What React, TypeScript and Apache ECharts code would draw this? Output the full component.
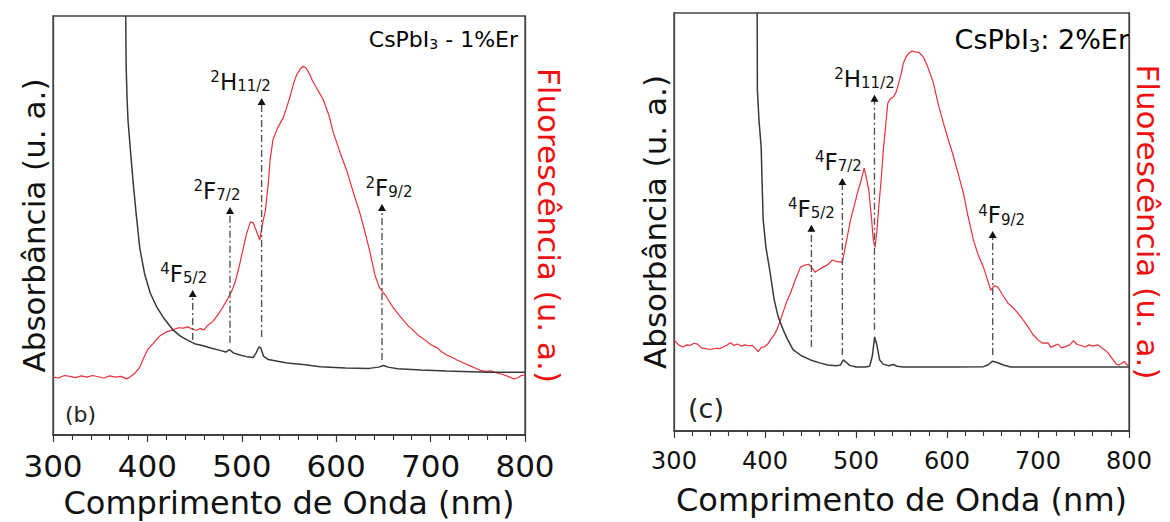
import React, { useEffect, useRef } from "react";
import * as echarts from "echarts";

const FONT = "'DejaVu Sans', Verdana, sans-serif";

// ---------- Panel (b): CsPbI3 - 1%Er ----------
const absNmB = [377, 377.5, 378.5, 379.5, 382, 385, 388, 392, 397, 403, 410, 417, 427, 435, 442, 450, 459, 468, 477, 483, 487, 491, 498, 505, 512, 515, 518, 520, 523, 528, 538, 548, 565, 583, 610, 635, 645, 650, 655, 665, 690, 717, 760, 800];
const absB = [100, 88, 80, 75, 68, 60, 53, 44.5, 38.5, 33.9, 30.5, 28, 25.1, 23.6, 22.7, 21.8, 21.3, 20.7, 20.2, 19.8, 20.4, 19.6, 19.1, 18.7, 18.5, 19.5, 21.0, 20.8, 18.8, 18.0, 17.6, 17.2, 16.8, 16.3, 16.0, 15.9, 16.2, 16.6, 16.2, 15.8, 15.5, 15.3, 15.0, 15.0];

const flNmB = [300, 306, 312, 318, 324, 330, 336, 342, 348, 354, 360, 366, 372, 378, 382, 387, 392, 396, 400, 406, 413, 420, 427, 433, 438, 443, 448, 452, 456, 460, 464, 469, 474, 479, 485, 489, 493, 497, 501, 505, 509, 512, 515, 519, 522, 525, 528, 530, 533, 538, 544, 548, 551, 555, 558, 562, 565, 568, 571, 575, 580, 586, 592, 597, 604, 611, 618, 625, 631, 636, 641, 646, 652, 660, 666, 671, 676, 681, 688, 694, 700, 707, 712, 717, 722, 728, 735, 742, 747, 752, 758, 764, 770, 776, 784, 788, 792, 796, 800];
const flB = [13.8, 13.6, 14.2, 14.0, 13.7, 14.1, 13.8, 14.2, 13.9, 13.6, 14.1, 13.8, 14.0, 13.4, 13.9, 14.8, 16.2, 18.4, 20.3, 21.8, 23.6, 24.6, 25.1, 25.6, 25.5, 25.8, 25.2, 25.0, 25.4, 25.1, 26.2, 27.0, 28.5, 30.2, 32.5, 34.2, 36.5, 40.0, 44.0, 48.0, 50.8, 50.7, 49.0, 46.5, 50.5, 53.5, 60, 65.6, 70.5, 73.3, 75.8, 78.5, 80.7, 84.0, 85.9, 87.4, 88.0, 87.6, 86.5, 84.5, 82.5, 80.2, 76.5, 72.1, 67.5, 63.2, 58.0, 53.0, 48.0, 43.4, 38.2, 35.1, 33.4, 30.5, 28.8, 27.4, 26.1, 25.1, 23.6, 22.7, 21.6, 20.8, 19.8, 19.1, 18.6, 17.9, 17.2, 16.5, 16.0, 15.5, 15.2, 15.3, 14.8, 14.5, 13.8, 13.4, 13.6, 14.2, 14.3];

const transNmB = [448, 487.5, 521, 648.5];
const transBaseB = [22.7, 22.0, 23.4, 17.9];
const transTopB = [33.8, 53.6, 79.6, 54.3];
const transSupB = ["4", "2", "2", "2"];
const transTermB = ["F", "F", "H", "F"];
const transSubB = ["5/2", "7/2", "11/2", "9/2"];
const labelShiftB = [-9, -13, -21, 7];

// ---------- Panel (c): CsPbI3: 2%Er ----------
const absNmC = [391.4, 391.5, 391.6, 393.5, 395.8, 397, 398, 401, 405.7, 410, 414.5, 420, 425, 431, 440, 450, 460, 469, 478, 483, 486, 489, 493, 500, 510, 515, 518, 520.5, 523, 526, 530, 536, 541, 545, 552, 580, 610, 640, 645, 650, 655, 662, 670, 700, 750, 800];
const absC = [100, 95, 81.6, 74, 67.9, 58, 50.5, 44, 37.8, 31.5, 27.3, 24.2, 21.8, 19.4, 18.0, 17.0, 16.3, 15.8, 15.6, 15.8, 17.0, 16.5, 15.7, 15.3, 15.3, 15.5, 18, 22.5, 20.5, 17, 16, 15.6, 15.9, 15.5, 15.3, 15.3, 15.3, 15.4, 15.8, 16.7, 16.4, 15.8, 15.3, 15.3, 15.3, 15.3];

const flNmC = [300, 305, 310, 314, 318, 322, 326, 330, 335, 340, 346, 350, 354, 358, 362, 366, 370, 374, 378, 382, 386, 390, 392.5, 396, 400, 403, 406, 410, 413, 417, 420, 424, 428, 433, 439, 444, 448, 451, 455, 459, 464, 469, 474, 479, 485, 487, 490, 494, 498, 501.5, 505, 509, 511, 514, 517, 519, 521, 523, 525, 528, 530, 533, 535, 538, 541, 544, 547, 550, 552, 555, 558, 562, 565, 569, 574, 579, 585, 590, 596, 601, 606, 612, 618, 623, 629, 634, 640, 644, 648, 652, 656, 661, 667, 672, 678, 683, 689, 694, 700, 705, 711, 714, 717, 722, 726, 730, 735, 739, 743, 748, 752, 756, 760, 766, 770, 774, 777, 782, 786, 789, 792, 795, 798, 800];
const flC = [21.8, 20.6, 20.1, 20.6, 20.5, 21.0, 20.8, 19.9, 19.7, 19.5, 19.8, 19.7, 20.1, 20.5, 21.1, 20.5, 20.8, 20.3, 20.6, 20.4, 20.5, 19.6, 19.0, 20.0, 20.2, 20.8, 21.8, 23.0, 24.2, 26.6, 28.5, 31, 33.0, 36, 39.2, 39.7, 39.9, 39.2, 38.0, 38.6, 39.2, 39.8, 40.9, 40.5, 40.4, 42.6, 46, 50.5, 53.8, 56.9, 59.5, 62.9, 61, 57.7, 51, 45.7, 44.0, 48, 53.6, 61, 67.2, 74, 78.5, 79.5, 79.9, 81, 83.3, 85.8, 88.0, 89.5, 90.4, 90.9, 90.7, 90.6, 89.5, 87, 83.3, 78.5, 73.7, 70, 66.5, 61.8, 56.9, 51.5, 45.7, 42.3, 39.2, 36.5, 33.7, 34.8, 34.4, 32.6, 30.6, 29.6, 28.2, 26.8, 24.9, 23.2, 21.8, 21.0, 21.1, 20.0, 20.3, 20.8, 19.9, 20.2, 20.6, 21.6, 20.7, 20.4, 20.1, 20.6, 20.3, 20.6, 19.9, 19.3, 18.7, 17.2, 16.0, 15.8, 16.2, 16.6, 15.7, 16.0];

const transNmC = [451, 485, 520.3, 650.2];
const transBaseC = [20.1, 18.2, 24.2, 18.2];
const transTopC = [48.5, 59.7, 79.6, 47.0];
const transSupC = ["4", "4", "2", "4"];
const transTermC = ["F", "F", "H", "F"];
const transSubC = ["5/2", "7/2", "11/2", "9/2"];
const labelShiftC = [0, -4, -10, 9];

const xTitle = "Comprimento de Onda (nm)";
const yLeftTitle = "Absorbância (u. a.)";
const yRightTitle = "Fluorescência (u. a.)";

const zip = (xs: number[], ys: number[]) => xs.map((x, i) => [x, ys[i]]);

const richFor = (size: number) => ({
  sup: { fontSize: Math.round(size * 0.66), lineHeight: Math.round(size * 0.68), verticalAlign: "top", fontFamily: FONT, color: "#111" },
  main: { fontSize: size, lineHeight: size + 1, verticalAlign: "middle", fontFamily: FONT, color: "#111" },
  sub: { fontSize: Math.round(size * 0.66), lineHeight: Math.round(size * 0.68), verticalAlign: "bottom", fontFamily: FONT, color: "#111" },
});

function transitionSeries(
  gi: number,
  nm: number[], base: number[], top: number[],
  sup: string[], term: string[], sub: string[], shift: number[], size: number
) {
  return nm.map((x, i) => ({
    type: "line",
    xAxisIndex: gi,
    yAxisIndex: gi * 2,
    silent: true,
    z: 5,
    symbol: "triangle",
    symbolSize: [8, 7],
    showSymbol: true,
    itemStyle: { color: "#111" },
    lineStyle: { color: "#555", width: 1.4, type: [7, 3, 2, 3] },
    data: [
      { value: [x, base[i]], symbol: "none" },
      {
        value: [x, top[i]],
        label: {
          show: true,
          position: "top",
          distance: 4,
          offset: [shift[i], 0],
          formatter: `{sup|${sup[i]}}{main|${term[i]}}{sub|${sub[i]}}`,
          rich: richFor(size),
        },
      },
    ],
  }));
}

function xAxisFor(gi: number, labelSize: number, labelMargin: number, nameGap: number, nameSize: number) {
  return {
    type: "value",
    gridIndex: gi,
    min: 300,
    max: 800,
    interval: 100,
    axisLine: { show: true, onZero: false, lineStyle: { color: "#333", width: 1.5 } },
    axisTick: { show: true, inside: false, length: 7, lineStyle: { color: "#333", width: 1.2 } },
    minorTick: { show: true, splitNumber: 5, length: 5, lineStyle: { color: "#333", width: 1.1 } },
    splitLine: { show: false },
    minorSplitLine: { show: false },
    axisLabel: { fontSize: labelSize, color: "#111", margin: labelMargin, fontFamily: FONT },
    name: xTitle,
    nameLocation: "middle",
    nameGap,
    nameTextStyle: { fontSize: nameSize, color: "#111", fontFamily: FONT, lineHeight: nameSize },
  };
}

function yAxisFor(gi: number, right: boolean, gap: number) {
  return {
    type: "value",
    gridIndex: gi,
    position: right ? "right" : "left",
    min: 0,
    max: 100,
    axisLine: { show: true, onZero: false, lineStyle: { color: "#444", width: 1.3 } },
    axisTick: { show: false },
    axisLabel: { show: false },
    splitLine: { show: false },
    name: right ? yRightTitle : yLeftTitle,
    nameLocation: "middle",
    nameRotate: right ? -90 : 90,
    nameGap: gap,
    nameTextStyle: { fontSize: 31, color: right ? "#ee1111" : "#111", fontFamily: FONT },
  };
}

export default function App() {
  const ref = useRef<HTMLDivElement>(null);
  useEffect(() => {
    if (!ref.current) return;
    const chart = echarts.init(ref.current, undefined, { renderer: "svg" });
    const titleRich = (size: number) => ({
      n: { fontSize: size, lineHeight: size + 2, verticalAlign: "middle", fontFamily: FONT, color: "#111" },
      s: { fontSize: Math.round(size * 0.65), lineHeight: Math.round(size * 0.6), verticalAlign: "bottom", fontFamily: FONT, color: "#111" },
    });
    chart.setOption({
      animation: false,
      backgroundColor: "#fff",
      grid: [
        { left: 53, top: 16, width: 472, height: 419, show: true, borderColor: "#444", borderWidth: 1.3, containLabel: false, outerBoundsMode: "none" },
        { left: 674, top: 13, width: 455, height: 418, show: true, borderColor: "#444", borderWidth: 1.3, containLabel: false, outerBoundsMode: "none" },
      ],
      xAxis: [xAxisFor(0, 31, 15, 52, 32), xAxisFor(1, 24, 18, 53, 32)],
      yAxis: [yAxisFor(0, false, 4), yAxisFor(0, true, 8), yAxisFor(1, false, 4), yAxisFor(1, true, 3)],
      series: [
        { type: "line", xAxisIndex: 0, yAxisIndex: 0, data: zip(absNmB, absB), showSymbol: false, symbol: "none", lineStyle: { color: "#3a3a3a", width: 1.5 }, z: 3 },
        { type: "line", xAxisIndex: 0, yAxisIndex: 1, data: zip(flNmB, flB), showSymbol: false, symbol: "none", lineStyle: { color: "#e8303c", width: 1.2 }, z: 2 },
        { type: "line", xAxisIndex: 1, yAxisIndex: 2, data: zip(absNmC, absC), showSymbol: false, symbol: "none", lineStyle: { color: "#3a3a3a", width: 1.5 }, z: 3 },
        { type: "line", xAxisIndex: 1, yAxisIndex: 3, data: zip(flNmC, flC), showSymbol: false, symbol: "none", lineStyle: { color: "#e8303c", width: 1.2 }, z: 2 },
        ...transitionSeries(0, transNmB, transBaseB, transTopB, transSupB, transTermB, transSubB, labelShiftB, 23),
        ...transitionSeries(1, transNmC, transBaseC, transTopC, transSupC, transTermC, transSubC, labelShiftC, 23),
      ],
      graphic: [
        { type: "text", left: 65, top: 403, style: { text: "(b)", fontSize: 22, fontFamily: FONT, fill: "#222" } },
        { type: "text", left: 688, top: 395, style: { text: "(c)", fontSize: 27, fontFamily: FONT, fill: "#222" } },
        { type: "text", right: 1170 - 518, top: 28, style: { text: "{n|CsPbI}{s|3}{n| - 1%Er}", rich: titleRich(22) } },
        { type: "text", right: 1170 - 1129, top: 26, style: { text: "{n|CsPbI}{s|3}{n|: 2%Er}", rich: titleRich(27) } },
      ],
    });
    return () => chart.dispose();
  }, []);
  return <div ref={ref} style={{ position: "fixed", left: 0, top: 0, width: 1170, height: 522 }} />;
}
